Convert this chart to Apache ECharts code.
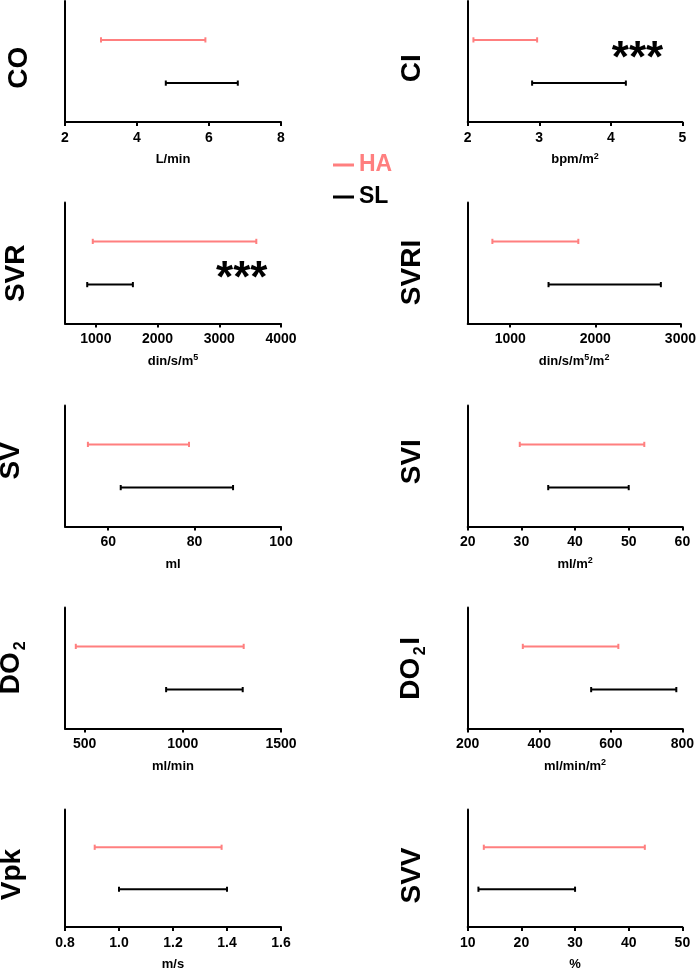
<!DOCTYPE html>
<html><head><meta charset="utf-8">
<script src="https://cdn.jsdelivr.net/npm/echarts@6/dist/echarts.min.js"></script>
<style>html,body{margin:0;padding:0;background:#fff}#c{width:699px;height:973px}</style>
</head><body><div id="c"></div>
<script>
// ---- data ----
const panels = ['CO','CI','SVR','SVRI','SV','SVI','DO2','DO2I','Vpk','SVV'];
const units = ['L/min','bpm/m{sup|2}','din/s/m{sup|5}','din/s/m{sup|5}/m{sup|2}','ml','ml/m{sup|2}','ml/min','ml/min/m{sup|2}','m/s','%'];
const groups = ['SL','HA'];
const haLow  = [3.0, 2.08, 950, 790, 55.3, 29.7, 455, 354, 0.91, 13.0];
const haHigh = [5.9, 2.97, 3600, 1800, 78.7, 52.9, 1310, 621, 1.38, 43.0];
const slLow  = [4.8, 2.90, 860, 1450, 62.9, 35.0, 915, 545, 1.00, 12.0];
const slHigh = [6.8, 4.21, 1600, 2770, 88.9, 50.0, 1305, 783, 1.40, 30.0];
const axisMin = [2, 2, 500, 500, 50, 20, 400, 200, 0.8, 10];
const axisMax = [8, 5, 4000, 3000, 100, 60, 1500, 800, 1.6, 50];
const tickValues = [
  [2,4,6,8],[2,3,4,5],[1000,2000,3000,4000],[1000,2000,3000],
  [60,80,100],[20,30,40,50,60],[500,1000,1500],[200,400,600,800],
  [0.8,1.0,1.2,1.4,1.6],[10,20,30,40,50]
];
const tickDecimals = [0,0,0,0,0,0,0,0,1,0];
const significance = ['', '***', '***', '', '', '', '', '', '', ''];

// ---- layout ----
const FONT = '"Liberation Sans", Arial, Helvetica, sans-serif';
const PINK = '#ff7f7f';
const colLeft = [65, 467.7], colWidth = [216, 214.7];
const rowTop = [1, 202.5, 405.5, 607.5, 809.5], rowH = 121;

const grids = [], xAxes = [], yAxes = [], series = [];

function renderBar(params, api) {
  const y = api.value(2);
  const a = api.coord([api.value(0), y]);
  const b = api.coord([api.value(1), y]);
  const st = { stroke: api.visual('color'), lineWidth: 2 };
  const cap = 2.6;
  return { type: 'group', children: [
    { type: 'line', shape: { x1: a[0], y1: a[1], x2: b[0], y2: b[1] }, style: st },
    { type: 'line', shape: { x1: a[0], y1: a[1] - cap, x2: a[0], y2: a[1] + cap }, style: st },
    { type: 'line', shape: { x1: b[0], y1: b[1] - cap, x2: b[0], y2: b[1] + cap }, style: st }
  ]};
}

panels.forEach((p, i) => {
  const col = i % 2, row = Math.floor(i / 2);
  grids.push({ left: colLeft[col], width: colWidth[col], top: rowTop[row], height: rowH });
  const dec = tickDecimals[i];
  xAxes.push({
    type: 'value', gridIndex: i, min: axisMin[i], max: axisMax[i],
    name: units[i], nameLocation: 'middle', nameGap: 30,
    nameTextStyle: { fontFamily: FONT, fontWeight: 'bold', fontSize: 13, color: '#000', lineHeight: 15,
      rich: { sup: { fontFamily: FONT, fontWeight: 'bold', fontSize: 9, color: '#000', lineHeight: 9, verticalAlign: 'top' } } },
    axisLine: { show: true, onZero: false, lineStyle: { color: '#000', width: 2 } },
    axisTick: { show: true, length: 4, lineStyle: { color: '#000', width: 2 }, customValues: tickValues[i] },
    axisLabel: { fontFamily: FONT, fontWeight: 'bold', fontSize: 14, color: '#000', margin: 9,
      customValues: tickValues[i], formatter: v => Number(v).toFixed(dec) },
    splitLine: { show: false }
  });
  yAxes.push({
    type: 'value', gridIndex: i, min: 0.1, max: 2.9,
    axisLine: { show: true, onZero: false, lineStyle: { color: '#000', width: 2 } },
    axisTick: { show: false }, axisLabel: { show: false }, splitLine: { show: false }
  });
  series.push({
    type: 'custom', name: 'HA', xAxisIndex: i, yAxisIndex: i,
    itemStyle: { color: PINK }, renderItem: renderBar, encode: { x: [0, 1], y: 2 },
    data: [[haLow[i], haHigh[i], groups.indexOf('HA') + 1]], silent: true
  });
  series.push({
    type: 'custom', name: 'SL', xAxisIndex: i, yAxisIndex: i,
    itemStyle: { color: '#000' }, renderItem: renderBar, encode: { x: [0, 1], y: 2 },
    data: [[slLow[i], slHigh[i], groups.indexOf('SL') + 1]], silent: true
  });
});

// ---- titles (rotated) ----
const titleSpec = [
  [{ t: 'CO', x: 18.8, y: 67.8 }],
  [{ t: 'CI', x: 412.2, y: 68.3 }],
  [{ t: 'SVR', x: 15.8, y: 273.3 }],
  [{ t: 'SVRI', x: 412.5, y: 272.5 }],
  [{ t: 'SV', x: 10.8, y: 460.8 }],
  [{ t: 'SVI', x: 412.2, y: 461.7 }],
  [{ t: 'DO', x: 10.8, y: 673.3 }, { t: '2', fs: 16, x: 20.8, y: 645.8 }],
  [{ t: 'DO', x: 410.8, y: 678.7 }, { t: '2', fs: 16, x: 420.8, y: 650.8 }, { t: 'I', x: 410.8, y: 640.8 }],
  [{ t: 'Vpk', x: 12.5, y: 874.5 }],
  [{ t: 'SVV', x: 412.2, y: 875.5 }]
];
const graphics = [];
titleSpec.forEach(list => list.forEach(s => {
  graphics.push({ type: 'text', x: s.x, y: s.y, rotation: Math.PI / 2, silent: true,
    style: { text: s.t, fontFamily: FONT, fontWeight: 'bold', fontSize: s.fs || 28, fill: '#000',
      align: 'center', verticalAlign: 'middle' } });
}));
const starPos = { 1: [637.5, 59.8], 2: [241.7, 280] };
significance.forEach((s, i) => {
  if (!s) return;
  graphics.push({ type: 'text', x: starPos[i][0], y: starPos[i][1], silent: true,
    style: { text: s, fontFamily: FONT, fontWeight: 'bold', fontSize: 44, fill: '#000',
      align: 'center', verticalAlign: 'middle' } });
});

const chart = echarts.init(document.getElementById('c'));
chart.setOption({
  animation: false,
  backgroundColor: '#fff',
  grid: grids, xAxis: xAxes, yAxis: yAxes, series: series,
  legend: {
    left: 333, top: 153, padding: 0, orient: 'vertical', itemGap: 8, itemWidth: 21, itemHeight: 3,
    icon: 'rect', selectedMode: false,
    textStyle: { fontFamily: FONT, fontWeight: 'bold', fontSize: 23, lineHeight: 24 },
    data: [
      { name: 'HA', textStyle: { color: PINK } },
      { name: 'SL', textStyle: { color: '#000' } }
    ]
  },
  graphic: graphics
});
</script></body></html>
